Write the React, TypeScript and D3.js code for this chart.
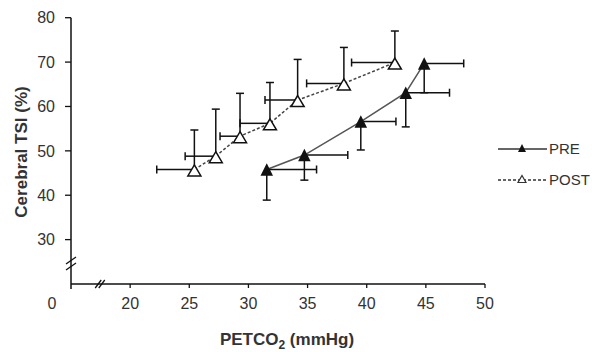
import React from 'react';
import * as d3 from 'd3';

// PRE series (filled triangles): error bars go right (x) and down (y)
const preX = [31.55, 34.73, 39.5, 43.3, 44.86];
const preY = [45.8, 49.06, 56.6, 63.1, 69.7];
const preXHi = [35.76, 38.4, 42.47, 47.0, 48.2];
const preYLo = [38.9, 43.4, 50.2, 55.4, 63.1];

// POST series (open triangles): error bars go left (x) and up (y)
const postX = [25.43, 27.24, 29.29, 31.82, 34.16, 38.07, 42.38];
const postY = [45.8, 48.8, 53.3, 56.2, 61.45, 65.2, 69.9];
const postXLo = [22.25, 24.65, 27.6, 29.29, 31.4, 34.92, 38.72];
const postYHi = [54.7, 59.4, 62.96, 65.4, 70.6, 73.3, 77.0];

const xTicks = [20, 25, 30, 35, 40, 45, 50];
const yTicks = [30, 40, 50, 60, 70, 80];

const W = 592;
const H = 352;
const font = '"Liberation Sans", Arial, sans-serif';

const x = d3.scaleLinear().domain([15, 50]).range([71, 485]);
const y = d3.scaleLinear().domain([20, 80]).range([284, 17.7]);

function tri(cx: number, cy: number, w: number, h: number) {
  return `M${cx},${cy - h / 2}L${cx + w / 2},${cy + h / 2}L${cx - w / 2},${cy + h / 2}Z`;
}

export default function App() {
  const line = d3.line<[number, number]>().x(d => x(d[0])).y(d => y(d[1]));
  const prePts = preX.map((v, i) => [v, preY[i]] as [number, number]);
  const postPts = postX.map((v, i) => [v, postY[i]] as [number, number]);
  const cap = 4;
  const x0 = x.range()[0];
  const yBase = y.range()[0];

  return (
    <svg width={W} height={H} style={{ position: 'absolute', left: 0, top: 0, background: '#fff' }}>
      {/* axes */}
      <line x1={x0} x2={x0} y1={y(80)} y2={yBase + 5} stroke="#111" strokeWidth={1.5} />
      <line x1={x0} x2={x(50)} y1={yBase} y2={yBase} stroke="#111" strokeWidth={1.5} />
      {yTicks.map(t => (
        <g key={'y' + t}>
          <line x1={x0 - 6} x2={x0} y1={y(t)} y2={y(t)} stroke="#111" strokeWidth={1.3} />
          <text x={x0 - 16} y={y(t)} dy="0.36em" textAnchor="end" fontSize={16} fill="#333" fontFamily={font}>{t}</text>
        </g>
      ))}
      {xTicks.map(t => (
        <g key={'x' + t}>
          <line x1={x(t)} x2={x(t)} y1={yBase} y2={yBase + 4} stroke="#111" strokeWidth={1.3} />
          <text x={x(t)} y={309} textAnchor="middle" fontSize={16} fill="#333" fontFamily={font}>{t}</text>
        </g>
      ))}
      <text x={x0 - 19} y={309} textAnchor="middle" fontSize={16} fill="#333" fontFamily={font}>0</text>

      {/* axis breaks */}
      <g stroke="#111" strokeWidth={1.3}>
        <line x1={x0 - 5} x2={x0 + 5} y1={y(24.06) + 4} y2={y(24.06) - 3} />
        <line x1={x0 - 5} x2={x0 + 5} y1={y(25.4) + 4} y2={y(25.4) - 3} />
        <line x1={x(17.3) - 3} x2={x(17.3) + 3} y1={yBase + 4} y2={yBase - 4} />
        <line x1={x(17.6) - 3} x2={x(17.6) + 3} y1={yBase + 4} y2={yBase - 4} />
      </g>

      {/* axis titles */}
      <text x={287} y={345} textAnchor="middle" fontSize={17} fontWeight="bold" fill="#333" fontFamily={font}>
        PETCO<tspan fontSize={12} dy={4}>2</tspan><tspan dy={-4}> (mmHg)</tspan>
      </text>
      <text transform={`translate(27,152) rotate(-90)`} textAnchor="middle" fontSize={17} fontWeight="bold" fill="#333" fontFamily={font}>
        Cerebral TSI (%)
      </text>

      {/* lines */}
      <path d={line(prePts) || ''} fill="none" stroke="#555" strokeWidth={1.5} />
      <path d={line(postPts) || ''} fill="none" stroke="#444" strokeWidth={1.5} strokeDasharray="3,2" />

      {/* error bars */}
      <g stroke="#111" strokeWidth={1.5}>
        {preX.map((v, i) => (
          <g key={'pe' + i}>
            <line x1={x(v)} x2={x(preXHi[i])} y1={y(preY[i])} y2={y(preY[i])} />
            <line x1={x(preXHi[i])} x2={x(preXHi[i])} y1={y(preY[i]) - cap} y2={y(preY[i]) + cap} />
            <line x1={x(v)} x2={x(v)} y1={y(preY[i])} y2={y(preYLo[i])} />
            <line x1={x(v) - cap} x2={x(v) + cap} y1={y(preYLo[i])} y2={y(preYLo[i])} />
          </g>
        ))}
        {postX.map((v, i) => (
          <g key={'qe' + i}>
            <line x1={x(v)} x2={x(postXLo[i])} y1={y(postY[i])} y2={y(postY[i])} />
            <line x1={x(postXLo[i])} x2={x(postXLo[i])} y1={y(postY[i]) - cap} y2={y(postY[i]) + cap} />
            <line x1={x(v)} x2={x(v)} y1={y(postY[i])} y2={y(postYHi[i])} />
            <line x1={x(v) - cap} x2={x(v) + cap} y1={y(postYHi[i])} y2={y(postYHi[i])} />
          </g>
        ))}
      </g>

      {/* markers */}
      {prePts.map((p, i) => (
        <path key={'pm' + i} d={tri(x(p[0]), y(p[1]), 12.5, 12.5)} fill="#111" />
      ))}
      {postPts.map((p, i) => (
        <path key={'qm' + i} d={tri(x(p[0]), y(p[1]) + 1, 13, 11)} fill="#fff" stroke="#111" strokeWidth={1.5} />
      ))}

      {/* legend */}
      <line x1={498} x2={547} y1={149} y2={149} stroke="#333" strokeWidth={1.5} />
      <path d={tri(522, 148, 8, 8)} fill="#111" />
      <text x={549} y={149} dy="0.36em" fontSize={15} fill="#333" fontFamily={font}>PRE</text>
      <line x1={498} x2={547} y1={180} y2={180} stroke="#333" strokeWidth={1.3} strokeDasharray="3,2" />
      <path d={tri(522, 179, 8, 7)} fill="#fff" stroke="#333" strokeWidth={1.2} />
      <text x={549} y={180} dy="0.36em" fontSize={15} fill="#333" fontFamily={font}>POST</text>
    </svg>
  );
}
